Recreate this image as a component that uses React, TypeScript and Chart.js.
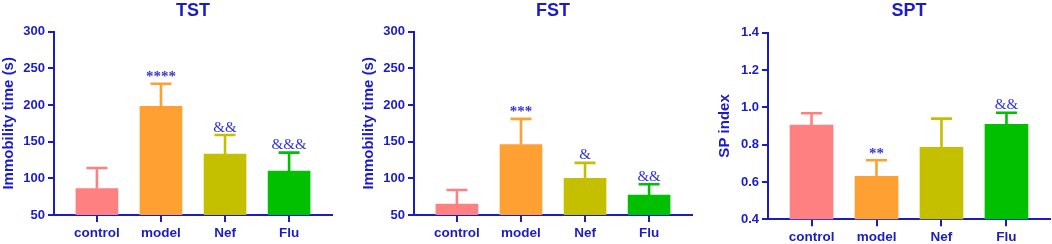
import React, { useEffect, useRef } from "react";
import { Chart, registerables } from "chart.js";
Chart.register(...registerables);

const groups = ["control", "model", "Nef", "Flu"];
const barColors = ["#ff8080", "#ffa033", "#c4c000", "#00c000"];

const tstMeans = [86, 198, 133, 110];
const tstUpper = [114, 229, 159, 135];
const tstMarks = ["", "****", "&&", "&&&"];
const tstTicks = [50, 100, 150, 200, 250, 300];

const fstMeans = [65, 146, 100, 77];
const fstUpper = [84, 181, 121, 92];
const fstMarks = ["", "***", "&", "&&"];
const fstTicks = [50, 100, 150, 200, 250, 300];

const sptMeans = [0.905, 0.63, 0.786, 0.909];
const sptUpper = [0.968, 0.716, 0.939, 0.971];
const sptMarks = ["", "**", "", "&&"];
const sptTicks = [0.4, 0.6, 0.8, 1.0, 1.2, 1.4];

const AXIS = "#1c1cc4";
const MARK = "#3434d8";
const SANS = "'Liberation Sans', Arial, sans-serif";
const SERIF = "'Liberation Serif', 'Times New Roman', serif";

type PanelProps = {
  title: string;
  yTitle: string;
  means: number[];
  upper: number[];
  marks: string[];
  yTicks: number[];
  decimals: number;
  width: number;
  left: number;
  padLeft: number;
  padRight: number;
  axisWidth: number;
  xAxisHeight: number;
  titleBottom: number;
  barThickness: number;
};

function Panel(p: PanelProps) {
  const ref = useRef<HTMLCanvasElement | null>(null);
  useEffect(() => {
    if (!ref.current) return;
    const errorPlugin = {
      id: "errorBars",
      afterDatasetsDraw(chart: any) {
        const ctx = chart.ctx;
        const xs = chart.scales.x;
        const ys = chart.scales.y;
        ctx.save();
        p.means.forEach((m, i) => {
          const x = xs.getPixelForValue(i);
          const y0 = ys.getPixelForValue(m);
          const y1 = ys.getPixelForValue(p.upper[i]);
          ctx.strokeStyle = barColors[i];
          ctx.lineWidth = 2.6;
          ctx.beginPath();
          ctx.moveTo(x, y0);
          ctx.lineTo(x, y1);
          ctx.moveTo(x - 10.5, y1);
          ctx.lineTo(x + 10.5, y1);
          ctx.stroke();
          const mark = p.marks[i];
          if (mark) {
            const isStar = mark.indexOf("*") >= 0;
            ctx.fillStyle = MARK;
            ctx.font = `${isStar ? "bold " : ""}15px ${SERIF}`;
            ctx.textAlign = "center";
            ctx.textBaseline = "alphabetic";
            ctx.fillText(mark, x, y1 - (isStar ? 2.5 : 3.5));
          }
        });
        ctx.restore();
      },
    };
    const chart = new Chart(ref.current, {
      type: "bar",
      data: {
        datasets: [
          {
            data: p.means.map((v, i) => ({ x: i, y: v })),
            backgroundColor: barColors,
            borderWidth: 0,
            barThickness: p.barThickness,
          },
        ],
      },
      options: {
        responsive: false,
        animation: false,
        layout: { padding: { left: p.padLeft, right: p.padRight, top: 0, bottom: 0 } },
        plugins: {
          legend: { display: false },
          tooltip: { enabled: false },
          title: {
            display: true,
            text: p.title,
            fullSize: false,
            color: AXIS,
            font: { family: SANS, size: 18, weight: "bold", lineHeight: 1.2 },
            padding: { top: 0, bottom: p.titleBottom },
          },
        },
        scales: {
          x: {
            type: "linear",
            min: -0.67,
            max: 3.67,
            offset: false,
            grid: {
              display: true,
              offset: false,
              drawOnChartArea: false,
              drawTicks: true,
              tickLength: 7,
              color: AXIS,
              lineWidth: 2,
            },
            border: { display: true, color: AXIS, width: 2 },
            afterBuildTicks: (scale: any) => {
              scale.ticks = groups.map((_, i) => ({ value: i }));
            },
            afterFit: (scale: any) => {
              scale.height = p.xAxisHeight;
            },
            ticks: {
              color: AXIS,
              padding: 3,
              maxRotation: 0,
              autoSkip: false,
              font: { family: SANS, size: 13.5, weight: "bold" },
              callback: (v: any) => groups[Math.round(Number(v))] ?? "",
            },
          },
          y: {
            type: "linear",
            min: p.yTicks[0],
            max: p.yTicks[p.yTicks.length - 1],
            grid: {
              display: true,
              drawOnChartArea: false,
              drawTicks: true,
              tickLength: 6,
              color: AXIS,
              lineWidth: 2,
            },
            border: { display: true, color: AXIS, width: 2 },
            afterBuildTicks: (scale: any) => {
              scale.ticks = p.yTicks.map((v) => ({ value: v }));
            },
            afterFit: (scale: any) => {
              scale.width = p.axisWidth;
            },
            title: {
              display: true,
              text: p.yTitle,
              color: AXIS,
              padding: 0,
              font: { family: SANS, size: 15, weight: "bold", lineHeight: 1.2 },
            },
            ticks: {
              color: AXIS,
              padding: 3,
              font: { family: SANS, size: 13, weight: "bold" },
              callback: (v: any) => Number(v).toFixed(p.decimals),
            },
          },
        },
      },
      plugins: [errorPlugin],
    } as any);
    return () => chart.destroy();
  }, []);
  return (
    <canvas
      ref={ref}
      width={p.width}
      height={244}
      style={{ position: "absolute", left: p.left, top: 0, width: p.width, height: 244 }}
    />
  );
}

export default function App() {
  return (
    <div style={{ position: "fixed", left: 0, top: 0, width: 1052, height: 244, background: "#fff" }}>
      <Panel
        title="TST"
        yTitle="Immobility time (s)"
        means={tstMeans}
        upper={tstUpper}
        marks={tstMarks}
        yTicks={tstTicks}
        decimals={0}
        width={350}
        left={0}
        padLeft={0}
        padRight={18}
        axisWidth={54}
        xAxisHeight={29}
        titleBottom={10}
        barThickness={42}
      />
      <Panel
        title="FST"
        yTitle="Immobility time (s)"
        means={fstMeans}
        upper={fstUpper}
        marks={fstMarks}
        yTicks={fstTicks}
        decimals={0}
        width={350}
        left={350}
        padLeft={10}
        padRight={8}
        axisWidth={54}
        xAxisHeight={29}
        titleBottom={10}
        barThickness={42}
      />
      <Panel
        title="SPT"
        yTitle="SP index"
        means={sptMeans}
        upper={sptUpper}
        marks={sptMarks}
        yTicks={sptTicks}
        decimals={1}
        width={352}
        left={700}
        padLeft={16}
        padRight={2}
        axisWidth={52}
        xAxisHeight={24.7}
        titleBottom={11}
        barThickness={43}
      />
    </div>
  );
}
